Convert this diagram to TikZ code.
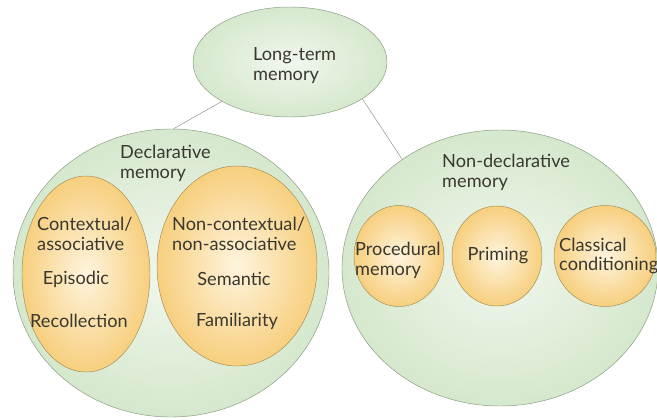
\documentclass[tikz,border=0pt]{standalone}
\usepackage{fontspec}
\setmainfont{Lato}
\usetikzlibrary{shapes.geometric}

\definecolor{verdeB}{HTML}{D5E8CD}
\definecolor{verdeC}{HTML}{F1F7ED}
\definecolor{borde}{HTML}{8A9A82}
\definecolor{amarB}{HTML}{F7CF7E}
\definecolor{amarC}{HTML}{FEF4DE}
\definecolor{bordeA}{HTML}{A48C58}
\definecolor{texto}{HTML}{3A382E}
\definecolor{linea}{HTML}{8C8C88}

\tikzset{
  verde/.style={ellipse, draw=borde, inner color=verdeC, outer color=verdeB, inner sep=0pt},
  amarillo/.style={ellipse, draw=bordeA, inner color=amarC, outer color=amarB, inner sep=0pt},
  etiq/.style={text=texto, font=\fontsize{15.5}{17}\selectfont, inner sep=0pt, align=left},
}

\begin{document}
\begin{tikzpicture}[x=0.03cm, y=-0.03cm]
  \useasboundingbox (0,0) rectangle (657,419);

  % Elipses verdes
  \node[verde, minimum width=5.82cm, minimum height=3.3cm] (ltm) at (290,62) {};
  \node[verde, minimum width=9.48cm, minimum height=8.64cm] (decl) at (171,273) {};
  \node[verde, minimum width=9.48cm, minimum height=8.28cm] (ndecl) at (500,268) {};

  % Conectores
  \draw[linea] (ltm.210) -- (decl.89);
  \draw[linea] (ltm.333) -- (ndecl.132);

  % Elipses amarillas
  \node[amarillo, minimum width=3.84cm, minimum height=5.88cm] (ctx) at (86,274) {};
  \node[amarillo, minimum width=4.8cm, minimum height=6.0cm] (nctx) at (237,266) {};
  \node[amarillo, minimum width=2.7cm, minimum height=3.03cm] (proc) at (399,256) {};
  \node[amarillo, minimum width=2.7cm, minimum height=3.0cm] (prim) at (497,256) {};
  \node[amarillo, minimum width=3.06cm, minimum height=3.03cm] (clas) at (605,256) {};

  % Textos
  \node[etiq, anchor=west] (ltmT) at (253,66) {Long-term\\memory};
  \node[etiq, anchor=west] (declT) at (120,163) {Declarative\\memory};
  \node[etiq, anchor=west] (ndeclT) at (442,172) {Non-declarative\\memory};
  \node[etiq, anchor=west] (ctxT) at (37,234) {Contextual/\\associative};
  \node[etiq] (epi) at (76,279) {Episodic};
  \node[etiq] (rec) at (79,321) {Recollection};
  \node[etiq, anchor=west] (nctxT) at (172,234) {Non-contextual/\\non-associative};
  \node[etiq] (sem) at (234,279) {Semantic};
  \node[etiq] (fam) at (237,321) {Familiarity};
  \node[etiq, anchor=west] (procT) at (355,260) {Procedural\\memory};
  \node[etiq] (primT) at (498,256) {Priming};
  \node[etiq, anchor=west] (clasT) at (559,256) {Classical\\conditioning};
\end{tikzpicture}
\end{document}
